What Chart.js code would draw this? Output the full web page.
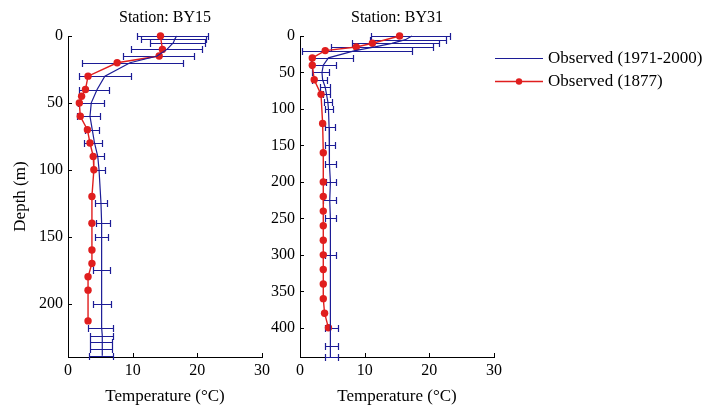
<!DOCTYPE html>
<html lang="en">
<head>
<meta charset="UTF-8" />
<title>Temperature profiles BY15 / BY31</title>
<script src="https://cdn.jsdelivr.net/npm/chart.js@4.4.1/dist/chart.umd.min.js"></script>
<style>
  html, body { margin: 0; padding: 0; background: #fff; }
  #wrap { position: relative; width: 710px; height: 408px; overflow: hidden; }
  #wrap canvas { position: absolute; top: 0; }
  #by15 { left: 0; }
  #by31 { left: 270px; }
</style>
</head>
<body>
<div id="wrap">
  <canvas id="by15" width="280" height="408"></canvas>
  <canvas id="by31" width="440" height="408"></canvas>
</div>
<script>
// Station BY15, mean 1971-2000 with spread (depth in m, temperature in degC)
const by15ObsDepth = [0, 2.5, 5, 10, 15, 20, 30, 40, 50, 60, 70, 80, 90, 100, 125, 140, 150, 175, 200, 218, 224, 229, 234, 239];
const by15ObsMean  = [16.8, 16.5, 16.3, 15.3, 13.8, 9.6, 5.7, 4.5, 3.6, 3.4, 3.75, 4.1, 4.6, 4.8, 5.1, 5.2, 5.2, 5.2, 5.2, 5.2, 5.3, 5.3, 5.3, 5.3];
const by15ObsLow   = [10.6, 11.3, 12.7, 9.8, 8.5, 2.2, 1.7, 1.75, 1.6, 1.4, 2.6, 2.5, 3.8, 3.9, 4.2, 4.3, 4.2, 3.9, 3.8, 3.1, 3.4, 3.4, 3.4, 3.3];
const by15ObsHigh  = [21.7, 21.3, 21.2, 20.7, 19.5, 17.8, 9.7, 6.4, 5.5, 4.9, 4.8, 5.3, 5.5, 5.7, 6.0, 6.5, 6.2, 6.5, 6.6, 7.0, 7.0, 6.8, 6.8, 6.9];
// Station BY15, 1877
const by15HistDepth = [0, 10, 15, 20, 30, 40, 45, 50, 60, 70, 80, 90, 100, 120, 140, 160, 170, 180, 190, 213];
const by15HistTemp  = [14.3, 14.6, 14.1, 7.6, 3.1, 2.7, 2.1, 1.75, 1.9, 3.0, 3.4, 3.9, 4.0, 3.7, 3.7, 3.7, 3.7, 3.1, 3.1, 3.1];

// Station BY31, mean 1971-2000 with spread
const by31ObsDepth = [0, 5, 10, 15, 20, 30, 40, 50, 60, 70, 80, 90, 100, 125, 150, 175, 200, 225, 250, 300, 400, 425, 440];
const by31ObsMean  = [17.3, 16.3, 14.2, 11.6, 8.5, 4.4, 3.6, 3.4, 3.5, 3.9, 4.1, 4.3, 4.4, 4.5, 4.5, 4.6, 4.7, 4.6, 4.7, 4.7, 4.7, 4.7, 4.7];
const by31ObsLow   = [11.0, 10.8, 8.0, 4.8, 0.3, 1.7, 1.7, 1.8, 1.9, 3.1, 3.5, 3.7, 3.8, 3.9, 3.8, 3.8, 4.0, 3.6, 3.8, 3.9, 3.8, 3.8, 3.8];
const by31ObsHigh  = [23.2, 22.5, 21.5, 20.6, 17.3, 8.2, 5.5, 4.5, 4.1, 4.6, 4.6, 4.9, 5.1, 5.4, 5.4, 5.6, 5.6, 5.6, 5.6, 5.6, 5.8, 5.8, 5.8];
// Station BY31, 1877
const by31HistDepth = [0, 10, 15, 20, 30, 40, 60, 80, 120, 160, 200, 220, 240, 260, 280, 300, 320, 340, 360, 380, 400];
const by31HistTemp  = [15.4, 11.2, 8.7, 3.9, 1.9, 1.9, 2.2, 3.25, 3.5, 3.6, 3.6, 3.6, 3.6, 3.6, 3.6, 3.6, 3.6, 3.6, 3.6, 3.8, 4.4];

const tempTicks = [0, 10, 20, 30];
const seriesNames = ['Observed (1971-2000)', 'Observed (1877)'];

const BLUE = '#1c1c96';
const RED = '#e01e1e';
const FONT = '"Liberation Serif", "Times New Roman", serif';

Chart.defaults.font.family = FONT;
Chart.defaults.color = '#000';

function toPoints(depths, temps) {
    return depths.map((d, i) => ({x: temps[i], y: d}));
}

// horizontal spread bars for the 1971-2000 means, under the lines
const errorBars = {
    id: 'errorBars',
    beforeDatasetsDraw(chart) {
        const {ctx, scales: {x, y}} = chart;
        chart.data.datasets.forEach(ds => {
            if (!ds.low) return;
            ctx.save();
            ctx.strokeStyle = ds.borderColor;
            ctx.lineWidth = 1.2;
            ctx.beginPath();
            ds.data.forEach((p, i) => {
                const py = Math.round(y.getPixelForValue(p.y)) + 0.5;
                const x1 = Math.round(x.getPixelForValue(ds.low[i])) + 0.5;
                const x2 = Math.round(x.getPixelForValue(ds.high[i])) + 0.5;
                ctx.moveTo(x1, py); ctx.lineTo(x2, py);
                ctx.moveTo(x1, py - 3.5); ctx.lineTo(x1, py + 3.5);
                ctx.moveTo(x2, py - 3.5); ctx.lineTo(x2, py + 3.5);
            });
            ctx.stroke();
            ctx.restore();
        });
    }
};

// inward tick marks, station title and (right panel) legend
const decor = {
    id: 'decor',
    afterDraw(chart, args, opts) {
        const {ctx, chartArea: a, scales: {x, y}} = chart;
        ctx.save();
        ctx.strokeStyle = '#000';
        ctx.lineWidth = 1;
        ctx.beginPath();
        y.ticks.forEach(t => {
            const py = Math.round(y.getPixelForValue(t.value)) + 0.5;
            ctx.moveTo(a.left, py); ctx.lineTo(a.left + 4, py);
        });
        x.ticks.forEach(t => {
            const px = Math.round(x.getPixelForValue(t.value)) + 0.5;
            ctx.moveTo(px, a.bottom); ctx.lineTo(px, a.bottom - 4);
        });
        ctx.stroke();

        ctx.fillStyle = '#000';
        ctx.font = '16px ' + FONT;
        ctx.textAlign = 'center';
        ctx.textBaseline = 'middle';
        ctx.fillText(opts.title, (a.left + a.right) / 2, 18);

        if (opts.legend) {
            ctx.font = '17px ' + FONT;
            ctx.textAlign = 'left';
            chart.data.datasets.forEach((ds, i) => {
                const ly = 58.5 + i * 23;
                const lx = a.right + 1;
                ctx.strokeStyle = ds.borderColor;
                ctx.lineWidth = ds.borderWidth;
                ctx.beginPath();
                ctx.moveTo(lx, ly); ctx.lineTo(lx + 48, ly);
                ctx.stroke();
                if (ds.pointRadius > 0) {
                    ctx.fillStyle = ds.pointBackgroundColor;
                    ctx.beginPath();
                    ctx.arc(lx + 24, ly, ds.pointRadius - 0.5, 0, Math.PI * 2);
                    ctx.fill();
                }
                ctx.fillStyle = '#000';
                ctx.fillText(ds.label, lx + 53, ly);
            });
        }
        ctx.restore();
    }
};

function makeChart(id, title, depthMax, obs, hist, o) {
    return new Chart(document.getElementById(id), {
        type: 'scatter',
        data: {
            datasets: [
                {
                    label: seriesNames[0],
                    data: toPoints(obs.depth, obs.mean),
                    low: obs.low,
                    high: obs.high,
                    showLine: true,
                    borderColor: BLUE,
                    borderWidth: 1.2,
                    pointRadius: 0,
                    clip: false
                },
                {
                    label: seriesNames[1],
                    data: toPoints(hist.depth, hist.temp),
                    showLine: true,
                    borderColor: RED,
                    borderWidth: 1.4,
                    pointRadius: 3.7,
                    pointBorderWidth: 0,
                    pointBackgroundColor: RED,
                    clip: false
                }
            ]
        },
        options: {
            responsive: false,
            animation: false,
            events: [],
            layout: { padding: { top: 36, left: 0, bottom: 0, right: o.padRight } },
            scales: {
                x: {
                    type: 'linear',
                    min: 0,
                    max: 30,
                    afterBuildTicks: s => { s.ticks = tempTicks.map(v => ({value: v})); },
                    ticks: { padding: 4, color: '#000', font: { size: 16 } },
                    grid: { display: false, drawTicks: false },
                    border: { color: '#000', width: 1 },
                    title: { display: true, text: 'Temperature (°C)', color: '#000', font: { size: 17 }, padding: { top: 0, bottom: 1 } },
                    afterFit: s => { s.height = 51; }
                },
                y: {
                    type: 'linear',
                    reverse: true,
                    min: 0,
                    max: depthMax,
                    ticks: { stepSize: 50, includeBounds: false, padding: 5, color: '#000', font: { size: 16 } },
                    grid: { display: false, drawTicks: false },
                    border: { color: '#000', width: 1 },
                    title: { display: o.depthTitle, text: 'Depth (m)', color: '#000', font: { size: 17 }, padding: { top: 10, bottom: 0 } },
                    afterFit: s => { s.width = o.yWidth; }
                }
            },
            plugins: {
                legend: { display: false },
                tooltip: { enabled: false },
                decor: { title: title, legend: o.legend }
            }
        },
        plugins: [errorBars, decor]
    });
}

makeChart('by15', 'Station: BY15', 240,
    { depth: by15ObsDepth, mean: by15ObsMean, low: by15ObsLow, high: by15ObsHigh },
    { depth: by15HistDepth, temp: by15HistTemp },
    { padRight: 18, yWidth: 68, depthTitle: true, legend: false });

makeChart('by31', 'Station: BY31', 440,
    { depth: by31ObsDepth, mean: by31ObsMean, low: by31ObsLow, high: by31ObsHigh },
    { depth: by31HistDepth, temp: by31HistTemp },
    { padRight: 216, yWidth: 30, depthTitle: false, legend: true });
</script>
</body>
</html>
